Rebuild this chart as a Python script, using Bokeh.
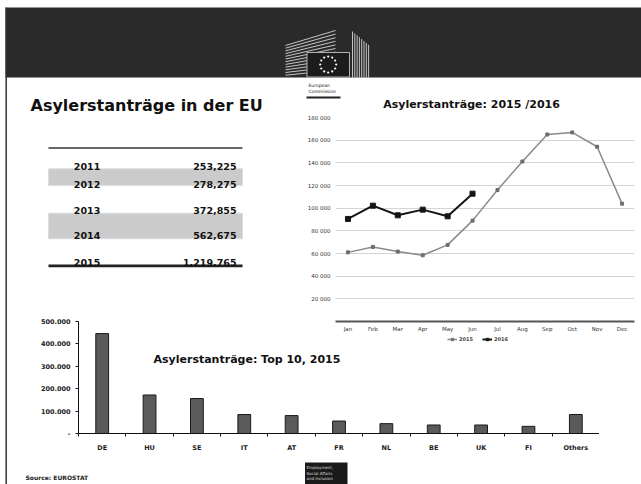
import math
from bokeh.plotting import figure
from bokeh.models import Range1d, FactorRange, FixedTicker, Legend, LegendItem, GridBox
from bokeh.core.properties import value
from bokeh.embed import file_html
from bokeh.resources import INLINE

# ---------------- data ----------------
table_years = ["2011", "2012", "2013", "2014", "2015"]
table_values = [253225, 278275, 372855, 562675, 1219765]

months = ["Jan", "Feb", "Mar", "Apr", "May", "Jun", "Jul", "Aug", "Sep", "Oct", "Nov", "Dec"]
apps_2015 = [61000, 65800, 61700, 58400, 67600, 89000, 116000, 141200, 165000, 166800, 154200, 104000]
apps_2016 = [90500, 102200, 93700, 98700, 92800, 112800]
series_labels = ["2015", "2016"]
line_y_ticks = [20000, 40000, 60000, 80000, 100000, 120000, 140000, 160000, 180000]

countries = ["DE", "HU", "SE", "IT", "AT", "FR", "NL", "BE", "UK", "FI", "Others"]
top10_2015 = [446000, 172000, 156000, 84600, 80000, 55700, 44000, 38000, 38000, 32000, 85000]
bar_y_ticks = [0, 100000, 200000, 300000, 400000, 500000]

FONT = value("DejaVu Sans")
W, H = 641, 484
STYLE_2015 = dict(color="#8a8a8a", width=1.5, marker_color="#6e6e6e", marker_size=3)
STYLE_2016 = dict(color="#151515", width=2, marker_color="#151515", marker_size=5)

# ---------------- background canvas (slide) ----------------
c = figure(width=W, height=H, x_range=Range1d(0, W), y_range=Range1d(H, 0),
           output_backend="svg", toolbar_location=None, min_border=0, frame_align=False,
           x_axis_location=None, y_axis_location=None, align="start",
           outline_line_color=None, background_fill_color="white", border_fill_color="white")
c.grid.visible = False

# header band and slide border
c.quad(left=[5], right=[W], top=[7], bottom=[77], fill_color="#2a2a2a", line_color=None)
c.segment(x0=[5.7], y0=[7], x1=[5.7], y1=[H], line_color="#333333", line_width=1.5)

# logo: building wings, flag, caption
nl = 12
c.segment(x0=[285] * nl, y0=[45 + 2.7 * k for k in range(nl)],
          x1=[335] * nl, y1=[30 + 3.6 * k for k in range(nl)],
          line_color="#d6d6d6", line_width=0.9)
nr = 8
c.segment(x0=[352 + 2.3 * j for j in range(nr)], y0=[31 + 1.9 * j for j in range(nr)],
          x1=[352 + 2.3 * j for j in range(nr)], y1=[77] * nr,
          line_color="#d6d6d6", line_width=0.9)
c.quad(left=[306.5], right=[349], top=[52], bottom=[76.5], fill_color="#1c1c1c",
       line_color="#b0b0b0", line_width=1)
star_x = [327.7 + 8 * math.cos(2 * math.pi * i / 12) for i in range(12)]
star_y = [64 + 8 * math.sin(2 * math.pi * i / 12) for i in range(12)]
c.scatter(x=star_x, y=star_y, size=2.2, marker="circle", fill_color="white", line_color=None)
c.text(x=[308, 308], y=[85, 91], text=["European", "Commission"], text_font=FONT,
       text_font_size="4.5px", text_color="#222222", text_baseline="alphabetic")
c.segment(x0=[306], y0=[97], x1=[340], y1=[97], line_color="#222222", line_width=2)

# main title
c.text(x=[30], y=[105], text=["Asylerstanträge in der EU"], text_font=FONT,
       text_font_style="bold", text_font_size="16px", text_color="#111111",
       text_baseline="alphabetic")

# table
row_base = [166, 184.3, 210, 235, 261.7]
c.quad(left=[48, 48], right=[242, 242], top=[168.3, 212.7], bottom=[185, 238.3],
       fill_color="#cbcbcb", line_color="#dddddd", line_width=1)
c.segment(x0=[48], y0=[147.5], x1=[242], y1=[147.5], line_color="#333333", line_width=1.5)
c.segment(x0=[48], y0=[265.3], x1=[242], y1=[265.3], line_color="#222222", line_width=2.7)
c.text(x=[73.3] * len(table_years), y=row_base, text=table_years, text_font=FONT,
       text_font_style="bold", text_font_size="9.5px", text_color="#111111",
       text_baseline="alphabetic")
c.text(x=[236] * len(table_values), y=row_base, text=[f"{v:,}" for v in table_values],
       text_font=FONT, text_font_style="bold", text_font_size="9.5px", text_color="#111111",
       text_baseline="alphabetic", text_align="right")

# chart titles
c.text(x=[471], y=[104], text=["Asylerstanträge: 2015 /2016"], text_font=FONT,
       text_font_style="bold", text_font_size="11px", text_color="#111111",
       text_baseline="alphabetic", text_align="center")
c.text(x=[153], y=[359], text=["Asylerstanträge: Top 10, 2015"], text_font=FONT,
       text_font_style="bold", text_font_size="11px", text_color="#111111",
       text_baseline="alphabetic")

# source + footer box
c.text(x=[25], y=[476.5], text=["Source:  EUROSTAT"], text_font=FONT, text_font_style="bold",
       text_font_size="6px", text_color="#222222", text_baseline="alphabetic")
c.quad(left=[304.5], right=[347], top=[462], bottom=[H], fill_color="#1a1a1a", line_color=None)
c.text(x=[306, 306, 306], y=[467, 472.5, 478], text=["Employment,", "Social Affairs", "and Inclusion"],
       text_font=FONT, text_font_size="4px", text_color="#dddddd", text_baseline="alphabetic")

# legend of the line chart (drawn on the slide canvas below the month labels,
# with legend-only proxy renderers styled like the series; NaN points draw nothing)
nan = float("nan")
proxies = []
for st in (STYLE_2015, STYLE_2016):
    pl = c.line(x=[nan], y=[nan], line_color=st["color"], line_width=st["width"])
    pm = c.scatter(x=[nan], y=[nan], marker="square", size=st["marker_size"],
                   fill_color=st["marker_color"], line_color=st["marker_color"])
    proxies.append([pl, pm])
legend = Legend(items=[LegendItem(label=lab, renderers=r) for lab, r in zip(series_labels, proxies)],
                orientation="horizontal", location=(447, 142),
                label_text_font="DejaVu Sans", label_text_font_size="5px",
                label_text_font_style="bold", label_standoff=2, label_height=6,
                glyph_width=10, glyph_height=6, spacing=3, padding=0, margin=0,
                border_line_color=None, background_fill_alpha=0)
c.add_layout(legend)

# ---------------- line chart 2015 / 2016 ----------------
lp = figure(width=341, height=235,
            x_range=FactorRange(factors=months, range_padding=0),
            y_range=Range1d(0, 180000), output_backend="svg", toolbar_location=None,
            min_border_left=35, min_border_right=7, min_border_top=7, min_border_bottom=24,
            frame_align=False, outline_line_color=None, background_fill_color=None,
            border_fill_color=None, align="start")
lp.line(x=months, y=apps_2015, line_color=STYLE_2015["color"], line_width=STYLE_2015["width"])
lp.scatter(x=months, y=apps_2015, marker="square", size=STYLE_2015["marker_size"],
           fill_color=STYLE_2015["marker_color"], line_color=STYLE_2015["marker_color"])
m16 = months[:len(apps_2016)]
lp.line(x=m16, y=apps_2016, line_color=STYLE_2016["color"], line_width=STYLE_2016["width"])
lp.scatter(x=m16, y=apps_2016, marker="square", size=STYLE_2016["marker_size"],
           fill_color=STYLE_2016["marker_color"], line_color=STYLE_2016["marker_color"])

lp.yaxis.ticker = FixedTicker(ticks=line_y_ticks)
lp.yaxis.major_label_overrides = {t: f"{t:,}".replace(",", " ") for t in line_y_ticks}
lp.yaxis.axis_line_color = None
lp.yaxis.major_tick_line_color = None
lp.yaxis.minor_tick_line_color = None
lp.yaxis.major_label_standoff = 5
lp.xaxis.axis_line_color = "#555555"
lp.xaxis.axis_line_width = 2
lp.xaxis.major_tick_line_color = None
lp.xaxis.major_label_standoff = 4
for ax in (lp.xaxis, lp.yaxis):
    ax.major_tick_out = 0
    ax.major_tick_in = 0
    ax.minor_tick_out = 0
    ax.major_label_text_font = "DejaVu Sans"
    ax.major_label_text_font_size = "5.5px"
    ax.major_label_text_color = "#333333"
lp.xgrid.grid_line_color = None
lp.ygrid.grid_line_color = "#d4d4d4"
lp.ygrid.grid_line_width = 1

# ---------------- bar chart top 10 ----------------
centers = [i + 0.5 for i in range(len(countries))]
bounds = [float(i) for i in range(len(countries) + 1)]
bp = figure(width=599, height=139, x_range=Range1d(0, len(countries)),
            y_range=Range1d(0, 500000), output_backend="svg", toolbar_location=None,
            min_border_left=78, min_border_right=0, min_border_top=6, min_border_bottom=18,
            frame_align=False, outline_line_color=None, background_fill_color=None,
            border_fill_color=None, align="start")
bp.vbar(x=centers, top=top10_2015, width=0.27, fill_color="#5a5a5a", line_color="#1a1a1a",
        line_width=1)
bp.grid.visible = False
bp.yaxis.ticker = FixedTicker(ticks=bar_y_ticks)
bp.yaxis.major_label_overrides = {t: ("-" if t == 0 else f"{t:,}".replace(",", "."))
                                  for t in bar_y_ticks}
bp.yaxis.major_tick_out = 3
bp.yaxis.major_tick_in = 0
bp.yaxis.minor_tick_line_color = None
bp.yaxis.major_label_standoff = 5
bp.xaxis.ticker = FixedTicker(ticks=centers, minor_ticks=bounds)
bp.xaxis.major_label_overrides = {x: lab for x, lab in zip(centers, countries)}
bp.xaxis.major_tick_line_color = None
bp.xaxis.major_tick_out = 0
bp.xaxis.minor_tick_out = 3
bp.xaxis.minor_tick_in = 0
bp.xaxis.minor_tick_line_color = "#111111"
bp.xaxis.major_label_standoff = 7
for ax in (bp.xaxis, bp.yaxis):
    ax.axis_line_color = "#111111"
    ax.major_label_text_font = "DejaVu Sans"
    ax.major_label_text_font_size = "6.5px"
    ax.major_label_text_font_style = "bold"
    ax.major_label_text_color = "#222222"
bp.yaxis.major_tick_line_color = "#111111"

# overlapping placement on a pixel grid (later children are drawn on top)
layout = GridBox(
    children=[(c, 0, 0, 5, 3), (lp, 1, 1, 2, 2), (bp, 2, 0, 2, 2)],
    rows=["110px", "205px", "30px", "109px", "30px"],
    cols=["300px", "299px", "42px"],
    spacing=0, width=W, height=H,
)
open("out.html", "w").write(file_html(layout, INLINE))
